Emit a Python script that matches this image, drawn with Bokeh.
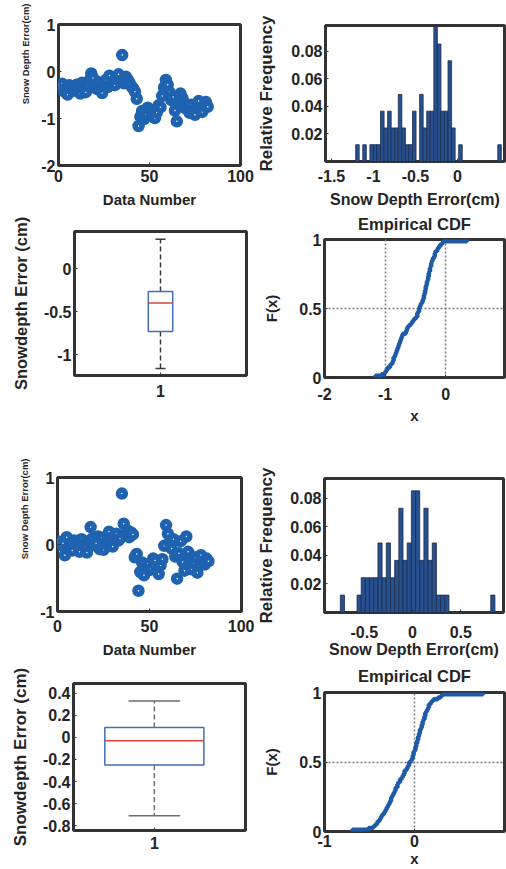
import numpy as np
from bokeh.plotting import figure
from bokeh.models import Range1d, FixedTicker, Title
from bokeh.layouts import column, row
from bokeh.embed import file_html
from bokeh.resources import INLINE

# ---------------- data ----------------
err1 = [-0.31, -0.26, -0.42, -0.36, -0.49, -0.29, -0.38, -0.41, -0.34, -0.28, -0.39, -0.47, -0.24, -0.33, -0.44, -0.30, -0.19,
        -0.04, -0.14,
        -0.32, -0.37, -0.23, -0.35, -0.46, -0.27, -0.18, -0.33,
        -0.09, -0.26, -0.21, -0.29,
        -0.13, -0.06, -0.22, 0.35, -0.25, -0.11, -0.17,
        -0.24, -0.31, -0.36, -0.43, -0.58,
        -1.16, -0.96,
        -0.84, -1.01, -0.91, -0.77, -0.81, -0.86, -0.97, -0.99, -0.87, -0.72, -0.76, -0.52,
        -0.34, -0.18, -0.28, -0.44, -0.61, -0.54,
        -0.83, -1.06, -0.64, -0.47, -0.56, -0.66, -0.79,
        -0.74, -0.88, -0.71, -0.82, -0.92, -0.78, -0.63, -0.80, -0.86, -0.73, -0.65, -0.75]

err2 = [0.04, -0.01, 0.02, -0.16, 0.11, -0.06, 0.01, -0.09, 0.06, 0.03, -0.02, -0.11, 0.08, 0.00, -0.04, -0.12, 0.05,
        0.26, 0.09,
        -0.01, 0.02, 0.12, -0.07, 0.10, -0.08, 0.01, 0.07,
        0.19, 0.04, -0.03, 0.13,
        0.16, 0.06, 0.09, 0.76, 0.31, 0.14, 0.21,
        0.11, 0.18, 0.15, -0.19, -0.14,
        -0.69, -0.41,
        -0.27, -0.46, -0.33, -0.29, -0.38, -0.36, -0.21, -0.24, -0.34, -0.44, -0.31, -0.22,
        -0.02, 0.29, 0.16, 0.03, -0.06, 0.08,
        -0.18, -0.51, -0.13, 0.05, -0.26, -0.39, 0.12,
        -0.11, -0.23, -0.37, -0.28, -0.19, -0.42, -0.32, -0.16, -0.26, -0.30, -0.21, -0.25]

data_number1 = list(range(1, len(err1) + 1))
data_number2 = list(range(1, len(err2) + 1))

hist_total = 82
hist1_first_edge = -1.212
hist1_bin_width = 0.0423
hist1_counts = [1, 0, 1, 0, 1, 1, 1,
                3, 2, 3, 2, 2, 4, 2, 1, 1, 3, 0, 4, 2, 3, 3, 8, 7, 3, 3, 6, 2, 0, 1,
                0, 0, 0, 0, 0, 0, 0, 0, 0, 0, 1]
hist2_first_edge = -0.748
hist2_bin_width = 0.0433
hist2_counts = [1, 0, 0, 0, 1, 2, 2, 2, 2, 4, 2, 4, 2, 3, 6, 3, 4,
                7, 7, 3, 6, 3, 4, 1, 1, 1,
                0, 0, 0, 0, 0, 0, 0, 0, 0, 0, 1]

box1_stats = {"lower": -1.16, "q1": -0.73, "median": -0.40, "q3": -0.265, "upper": 0.34}
box2_stats = {"lower": -0.71, "q1": -0.25, "median": -0.03, "q3": 0.09, "upper": 0.33}

scatter_xticks = [0, 50, 100]
scatter_xlabels = ["0", "50", "100"]
scatter1_yticks = [-2, -1, 0, 1]
scatter1_ylabels = ["-2", "-1", "0", "1"]
scatter2_yticks = [-1, 0, 1]
scatter2_ylabels = ["-1", "0", "1"]
hist1_xticks = [-1.5, -1, -0.5, 0]
hist1_xlabels = ["-1.5", "-1", "-0.5", "0"]
hist2_xticks = [-0.5, 0, 0.5]
hist2_xlabels = ["-0.5", "0", "0.5"]
hist_yticks = [0.02, 0.04, 0.06, 0.08]
hist_ylabels = ["0.02", "0.04", "0.06", "0.08"]
box1_yticks = [-1, -0.5, 0]
box1_ylabels = ["-1", "-0.5", "0"]
box2_yticks = [-0.8, -0.6, -0.4, -0.2, 0, 0.2, 0.4]
box2_ylabels = ["-0.8", "-0.6", "-0.4", "-0.2", "0", "0.2", "0.4"]
box_xticks = [1]
box_xlabels = ["1"]
cdf1_xticks = [-2, -1, 0]
cdf1_xlabels = ["-2", "-1", "0"]
cdf2_xticks = [-1, 0]
cdf2_xlabels = ["-1", "0"]
cdf_yticks = [0, 0.5, 1]
cdf_ylabels = ["0", "0.5", "1"]

# ---------------- styling ----------------
FONT = "Liberation Sans"
TXT = "#242424"
FRAME = "#333333"
BLUE = "#1f62b0"
LINEBLUE = "#1f5aa6"
TICK = "16px"


def base_fig(w, h, bl, br, bt, bb, xr, yr):
    p = figure(width=w, height=h, x_range=Range1d(*xr), y_range=Range1d(*yr),
               output_backend="svg", toolbar_location=None, title=None,
               min_border_left=bl, min_border_right=br,
               min_border_top=bt, min_border_bottom=bb)
    p.outline_line_color = FRAME
    p.outline_line_width = 3
    p.xgrid.visible = False
    p.ygrid.visible = False
    p.background_fill_color = "white"
    p.border_fill_color = "white"
    for ax in (p.xaxis[0], p.yaxis[0]):
        ax.axis_line_color = None
        ax.major_tick_in = 3
        ax.major_tick_out = 0
        ax.minor_tick_line_color = None
        ax.major_tick_line_color = FRAME
        ax.major_label_text_font = FONT
        ax.major_label_text_font_style = "bold"
        ax.major_label_text_font_size = TICK
        ax.major_label_text_color = TXT
        ax.axis_label_text_font = FONT
        ax.axis_label_text_font_style = "bold"
        ax.axis_label_text_color = TXT
    return p


def set_ticks(axis, ticks, labels, standoff):
    axis.ticker = FixedTicker(ticks=ticks)
    axis.major_label_overrides = {t: l for t, l in zip(ticks, labels)}
    axis.major_label_standoff = standoff


def set_label(axis, text, size, standoff):
    axis.axis_label = text
    axis.axis_label_text_font_size = size
    axis.axis_label_standoff = standoff


def scatter_panel(h, bl, br, bt, bb, yr, xs, ys, yticks, ylabels, title_offset, xt_stand, xl_stand):
    p = base_fig(254, h, bl, br, bt, bb, (0, 100), yr)
    p.scatter(xs, ys, size=7, line_width=5.5, line_color=BLUE, fill_color="white")
    set_ticks(p.xaxis[0], scatter_xticks, scatter_xlabels, xt_stand)
    set_ticks(p.yaxis[0], yticks, ylabels, 3)
    set_label(p.xaxis[0], "Data Number", "15px", xl_stand)
    t = Title(text="Snow Depth Error(cm)", align="right", offset=title_offset, standoff=15,
              text_font=FONT, text_font_style="bold", text_font_size="9.5px", text_color=TXT)
    p.add_layout(t, "left")
    return p


def hist_panel(h, bl, br, bt, bb, xr, yr, first_edge, width, counts, xticks, xlabels,
               xt_stand, xl_stand, yl_stand):
    p = base_fig(252, h, bl, br, bt, bb, xr, yr)
    lefts, rights, tops = [], [], []
    for i, c in enumerate(counts):
        if c > 0:
            lefts.append(first_edge + i * width)
            rights.append(first_edge + (i + 1) * width)
            tops.append(c / hist_total)
    p.quad(left=lefts, right=rights, bottom=0, top=tops,
           fill_color="#27508f", line_color="#1c2c4c", line_width=0.8)
    set_ticks(p.xaxis[0], xticks, xlabels, xt_stand)
    set_ticks(p.yaxis[0], hist_yticks, hist_ylabels, 3)
    set_label(p.xaxis[0], "Snow Depth Error(cm)", "16px", xl_stand)
    set_label(p.yaxis[0], "Relative Frequency", "17px", yl_stand)
    return p


def box_panel(h, bl, br, bt, bb, xr, yr, st, box_w, cap_w, yticks, ylabels,
              whisk_color, xt_stand, yl_stand, size):
    p = base_fig(254, h, bl, br, bt, bb, xr, yr)
    c = 1
    p.segment(x0=[c, c], y0=[st["q3"], st["q1"]], x1=[c, c], y1=[st["upper"], st["lower"]],
              line_color=whisk_color, line_width=1.5, line_dash="5 3")
    p.segment(x0=[c - cap_w / 2] * 2, x1=[c + cap_w / 2] * 2,
              y0=[st["upper"], st["lower"]], y1=[st["upper"], st["lower"]],
              line_color=whisk_color, line_width=1.5)
    p.quad(left=[c - box_w / 2], right=[c + box_w / 2], bottom=[st["q1"]], top=[st["q3"]],
           fill_color=None, line_color="#3f6fb5", line_width=1.5)
    p.segment(x0=[c - box_w / 2], x1=[c + box_w / 2], y0=[st["median"]], y1=[st["median"]],
              line_color="#d9453a", line_width=1.5)
    set_ticks(p.xaxis[0], box_xticks, box_xlabels, xt_stand)
    set_ticks(p.yaxis[0], yticks, ylabels, 3)
    set_label(p.yaxis[0], "Snowdepth Error (cm)", size, yl_stand)
    return p


def cdf_panel(h, bt, bb, xr, values, xticks, xlabels, gridx, xt_stand, xl_stand, t_stand):
    p = base_fig(252, h, 70, 2, bt, bb, xr, (0, 1))
    xs = np.sort(np.asarray(values))
    fs = np.arange(1, len(xs) + 1) / len(xs)
    cx = np.concatenate([[xs[0]], xs])
    cy = np.concatenate([[0.0], fs])
    p.xgrid.visible = True
    p.ygrid.visible = True
    p.xgrid.ticker = FixedTicker(ticks=gridx)
    p.ygrid.ticker = FixedTicker(ticks=[0.5])
    for g in (p.xgrid[0], p.ygrid[0]):
        g.grid_line_color = "#7a7a7a"
        g.grid_line_dash = "2 2"
        g.grid_line_width = 1.5
    p.step(cx, cy, mode="after", line_width=4.5, line_color=LINEBLUE)
    set_ticks(p.xaxis[0], xticks, xlabels, xt_stand)
    set_ticks(p.yaxis[0], cdf_yticks, cdf_ylabels, 3)
    set_label(p.xaxis[0], "x", "15px", xl_stand)
    set_label(p.yaxis[0], "F(x)", "15px", 16)
    p.title = Title(text="Empirical CDF", align="center", vertical_align="top",
                    standoff=t_stand, text_font=FONT, text_font_style="bold",
                    text_font_size="16.5px", text_color=TXT)
    return p


# row 1: 0..210, row 2: 210..430, row 3: 430..660, row 4: 660..869
pA = scatter_panel(210, 58, 14, 24, 45, (-2, 1), data_number1, err1,
                   scatter1_yticks, scatter1_ylabels, -21, 4, 6)
pB = hist_panel(210, 71, 2, 25, 47, (-1.571, 0.560), (0, 0.0988), hist1_first_edge,
                hist1_bin_width, hist1_counts, hist1_xticks, hist1_xlabels, 8, 6, 12)
pC = box_panel(220, 74, 8, 21, 55, (0.5, 1.5), (-1.24, 0.43), box1_stats, 0.142, 0.058,
               box1_yticks, box1_ylabels, "#3a3a3a", 9, 11, "16.5px")
pD = cdf_panel(220, 29, 53, (-2, 0.97), err1, cdf1_xticks, cdf1_xlabels, [-1, 0], 10, 4, 9)
pE = scatter_panel(230, 57, 13, 47, 45, (-1, 1), data_number2, err2,
                   scatter2_yticks, scatter2_ylabels, -19, 8, 6)
pF = hist_panel(230, 69, 3, 48, 45, (-0.912, 0.943), (0, 0.094), hist2_first_edge,
                hist2_bin_width, hist2_counts, hist2_xticks, hist2_xlabels, 13, 0, 11)
pG = box_panel(209, 73, 9, 23, 39, (0.53, 1.53), (-0.845, 0.49), box2_stats, 0.576, 0.30,
               box2_yticks, box2_ylabels, "#6e6e6e", 6, 10, "17px")
pH = cdf_panel(209, 32, 38, (-1, 1), err2, cdf2_xticks, cdf2_xlabels, [0], 3, 0, 12)

layout = column(
    row(column(pA), column(pB)),
    row(column(pC), column(pD)),
    row(column(pE), column(pF)),
    row(column(pG), column(pH)),
)

with open("out.html", "w") as f:
    f.write(file_html(layout, INLINE))
